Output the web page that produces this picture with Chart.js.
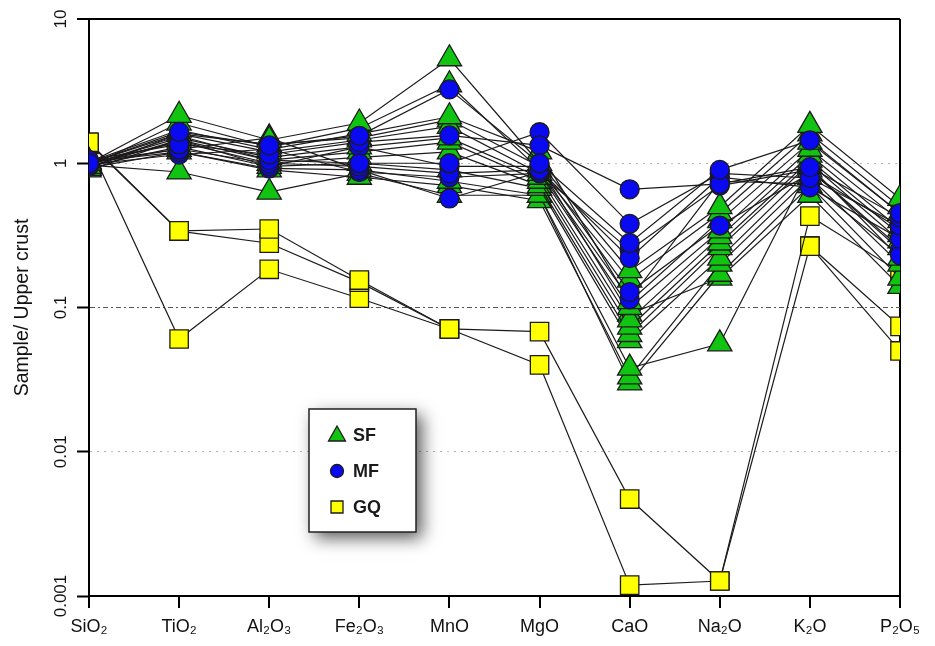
<!DOCTYPE html>
<html>
<head>
<meta charset="utf-8">
<script src="https://cdn.jsdelivr.net/npm/chart.js"></script>
<style>
  html, body { margin: 0; padding: 0; background: #fff; }
  #wrap { width: 935px; height: 646px; }
</style>
</head>
<body>
<div id="wrap"><canvas id="chart" width="935" height="646"></canvas></div>
<script>
// oxides on the x axis
const oxides = ["SiO₂", "TiO₂", "Al₂O₃", "Fe₂O₃", "MnO", "MgO", "CaO", "Na₂O", "K₂O", "P₂O₅"];
const yTicks = [0.001, 0.01, 0.1, 1, 10];
const yTickLabels = ["0.001", "0.01", "0.1", "1", "10"];

// sample / upper crust, one row per sample, columns follow `oxides`
const sfSamples = [
  [1.0, 2.15, 1.45, 1.9, 5.3, 1.0, 0.18, 0.5, 1.83, 0.57],
  [0.95, 1.9, 1.3, 1.75, 3.5, 0.9, 0.155, 0.45, 1.6, 0.5],
  [1.02, 1.7, 1.25, 1.6, 2.1, 1.2, 0.11, 0.4, 1.4, 0.45],
  [0.92, 1.6, 1.2, 1.45, 1.8, 0.85, 0.1, 0.34, 1.25, 0.4],
  [0.98, 1.5, 1.1, 1.3, 1.5, 0.8, 0.082, 0.31, 1.14, 0.35],
  [0.9, 1.45, 1.05, 1.2, 1.4, 0.75, 0.073, 0.28, 1.05, 0.32],
  [1.0, 1.4, 1.0, 1.1, 1.2, 0.7, 0.065, 0.26, 1.0, 0.29],
  [0.95, 1.3, 0.95, 1.0, 0.9, 0.67, 0.059, 0.22, 0.9, 0.26],
  [1.03, 1.25, 1.5, 0.9, 0.75, 0.6, 0.038, 0.056, 0.95, 0.22],
  [0.93, 1.2, 0.9, 0.8, 0.7, 0.55, 0.033, 0.2, 0.8, 0.2],
  [0.97, 0.87, 0.63, 0.85, 0.6, 0.6, 0.03, 0.17, 0.7, 0.16],
  [1.0, 1.6, 1.35, 1.5, 2.0, 0.95, 0.09, 0.16, 0.6, 0.14],
];
const mfSamples = [
  [1.0, 1.65, 1.33, 1.55, 3.25, 1.0, 0.28, 0.9, 1.44, 0.45],
  [1.05, 1.35, 1.15, 1.4, 1.56, 1.33, 0.66, 0.72, 0.94, 0.42],
  [0.97, 1.55, 1.05, 1.0, 1.0, 1.64, 0.38, 0.85, 0.79, 0.37],
  [1.0, 1.25, 1.0, 0.95, 0.85, 0.9, 0.22, 0.8, 0.68, 0.3],
  [0.95, 1.45, 0.95, 1.3, 0.95, 0.95, 0.128, 0.37, 0.85, 0.35],
  [1.02, 1.2, 0.92, 0.9, 0.57, 0.87, 0.114, 0.75, 0.72, 0.23],
  [0.98, 1.15, 1.25, 0.87, 0.8, 0.85, 0.25, 0.7, 0.9, 0.25],
];
const gqSamples = [
  [1.4, 0.34, 0.35, 0.155, 0.071, 0.068, 0.0047, 0.00127, 0.43, 0.176],
  [1.38, 0.338, 0.279, 0.15, 0.071, 0.04, 0.00119, 0.00127, 0.266, 0.074],
  [1.35, 0.0605, 0.184, 0.116, 0.071, null, null, null, 0.266, 0.05],
];

const FONT = "'Liberation Sans', Arial, Helvetica, sans-serif";
const groups = {
  SF: { pointStyle: "triangle", radius: 14, fill: "#12c412" },
  MF: { pointStyle: "circle", radius: 9.5, fill: "#0a0af0" },
  GQ: { pointStyle: "rect", radius: 13, fill: "#ffff00" },
};

function makeSet(name, values) {
  const g = groups[name];
  return {
    label: name,
    data: values,
    borderColor: "#1c1a1a",
    borderWidth: 1.2,
    pointStyle: g.pointStyle,
    pointRadius: g.radius,
    pointBackgroundColor: g.fill,
    pointBorderColor: "#1c1a1a",
    pointBorderWidth: 1.3,
    spanGaps: false,
    clip: 0,
  };
}

// first dataset is drawn on top, so circles go first
const datasets = [
  ...mfSamples.map((v) => makeSet("MF", v)),
  ...sfSamples.map((v) => makeSet("SF", v)),
  ...gqSamples.map((v) => makeSet("GQ", v)),
];

function gridColor(v) {
  if (v >= 10) return "#000";
  if (v <= 0.001) return "rgba(0,0,0,0)";
  if (Math.abs(v - 0.1) < 1e-9) return "#555";
  return "#b4b4b4";
}
function gridDash(v) {
  if (v >= 10 || v <= 0.001) return [];
  if (Math.abs(v - 0.1) < 1e-9) return [5, 3, 2, 3];
  return [2, 5];
}

const legendBox = {
  id: "legendBox",
  afterDraw(chart) {
    const ctx = chart.ctx;
    const x = 309, y = 409, w = 107, h = 123;
    ctx.save();
    ctx.shadowColor = "rgba(0,0,0,0.65)";
    ctx.shadowBlur = 16;
    ctx.shadowOffsetX = 6;
    ctx.shadowOffsetY = 6;
    ctx.fillStyle = "#fff";
    ctx.fillRect(x, y, w, h);
    ctx.restore();

    ctx.save();
    ctx.strokeStyle = "#222";
    ctx.lineWidth = 1.5;
    ctx.strokeRect(x, y, w, h);

    const items = ["SF", "MF", "GQ"];
    items.forEach((name, i) => {
      const cy = y + 26 + i * 36;
      const cx = x + 28;
      ctx.fillStyle = groups[name].fill;
      ctx.strokeStyle = "#1c1a1a";
      ctx.lineWidth = 1.3;
      ctx.beginPath();
      if (name === "SF") {
        ctx.moveTo(cx, cy - 9);
        ctx.lineTo(cx + 8.5, cy + 6);
        ctx.lineTo(cx - 8.5, cy + 6);
        ctx.closePath();
      } else if (name === "MF") {
        ctx.arc(cx, cy, 6.5, 0, Math.PI * 2);
      } else {
        ctx.rect(cx - 6, cy - 6, 12, 12);
      }
      ctx.fill();
      ctx.stroke();
      ctx.fillStyle = "#1a1a1a";
      ctx.font = "bold 18px " + FONT;
      ctx.textBaseline = "middle";
      ctx.textAlign = "left";
      ctx.fillText(name, x + 44, cy + 1);
    });
    ctx.restore();
  },
};

new Chart(document.getElementById("chart"), {
  type: "line",
  data: { labels: oxides, datasets },
  options: {
    responsive: false,
    animation: false,
    devicePixelRatio: 1,
    layout: { padding: { top: 19, right: 35, bottom: 0, left: 0 } },
    plugins: { legend: { display: false }, tooltip: { enabled: false } },
    scales: {
      x: {
        offset: false,
        afterFit: (s) => { s.height = 50; },
        grid: {
          drawOnChartArea: true,
          color: (c) => (c.index === oxides.length - 1 ? "#000" : "rgba(0,0,0,0)"),
          lineWidth: 2,
          tickColor: "#000",
          tickLength: 12,
          tickWidth: 2,
        },
        border: { display: true, color: "#000", width: 2 },
        ticks: {
          color: "#111",
          font: { family: FONT, size: 18 },
          padding: 8,
          maxRotation: 0,
          autoSkip: false,
        },
      },
      y: {
        type: "logarithmic",
        min: 0.001,
        max: 10,
        afterBuildTicks: (s) => { s.ticks = yTicks.map((v) => ({ value: v })); },
        afterFit: (s) => { s.width = 89; },
        grid: {
          color: (c) => (c.tick ? gridColor(c.tick.value) : "#000"),
          lineWidth: (c) => (c.tick && c.tick.value >= 10 ? 2 : 1),
          tickColor: "#000",
          tickLength: 12,
          tickWidth: 2,
        },
        border: {
          display: true,
          color: "#000",
          width: 2,
          dash: (c) => (c.tick ? gridDash(c.tick.value) : []),
        },
        ticks: {
          color: "#111",
          font: { family: FONT, size: 17 },
          minRotation: 90,
          maxRotation: 90,
          crossAlign: "center",
          padding: -6,
          callback: (v, i) => yTickLabels[i],
        },
        title: {
          display: true,
          text: "Sample/ Upper crust",
          color: "#111",
          font: { family: FONT, size: 19.5 },
          padding: { top: 11, bottom: 0 },
        },
      },
    },
  },
  plugins: [legendBox],
});
</script>
</body>
</html>
